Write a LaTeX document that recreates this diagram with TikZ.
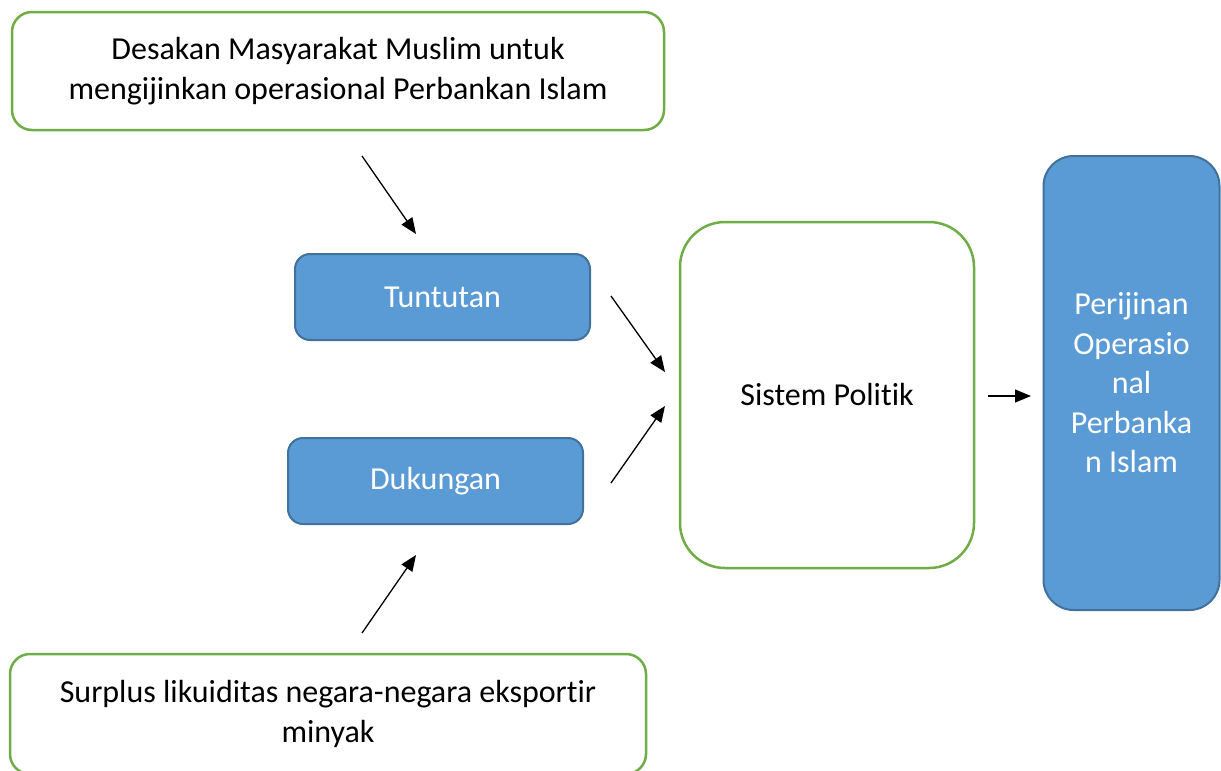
\documentclass[tikz,border=0pt]{standalone}
\usepackage{fontspec}
\setmainfont{Carlito}[Ligatures={NoCommon}]
\usetikzlibrary{arrows.meta}
\definecolor{grn}{HTML}{70AD47}
\definecolor{bfill}{HTML}{5B9BD5}
\definecolor{bdraw}{HTML}{41719C}
\tikzset{
  txt/.style={font=\fontsize{32}{39.5}\selectfont, align=center, inner sep=0pt},
  greenbox/.style={txt, draw=grn, line width=2.5pt, fill=white, rounded corners=20pt},
  bluebox/.style={txt, draw=bdraw, line width=2pt, fill=bfill, text=white, rounded corners=15pt},
  arr/.style={line width=1.3pt, -{Triangle[length=16pt,width=13pt]}}
}
\begin{document}
\begin{tikzpicture}[x=1pt,y=-1pt]
\useasboundingbox (0,0) rectangle (1221,771);
\clip (0,0) rectangle (1221,771);
\fill[white] (0,0) rectangle (1221,771);
\node[greenbox, minimum width=652pt, minimum height=118pt] (desakan) at (338,71)
  {Desakan Masyarakat Muslim untuk\\mengijinkan operasional Perbankan Islam};
\node[bluebox, minimum width=295pt, minimum height=86pt] (tuntutan) at (442.5,297) {\raisebox{-3pt}{Tuntutan}};
\node[bluebox, minimum width=295pt, minimum height=86pt] (dukungan) at (435.5,481) {\raisebox{-3pt}{Dukungan}};
\node[greenbox, rounded corners=45pt, minimum width=294pt, minimum height=346pt] (sistem) at (827,395) {\raisebox{-2pt}{Sistem Politik}};
\node[bluebox, rounded corners=30pt, minimum width=176pt, minimum height=454pt, line width=2pt] (perijinan) at (1131.5,383)
  {Perijinan\\Operasio\\nal\\Perbanka\\n Islam};
\node[greenbox, minimum width=636pt, minimum height=120pt] (surplus) at (328,714)
  {Surplus likuiditas negara-negara eksportir\\minyak};
\coordinate (a1s) at (362,156); \coordinate (a1e) at (416,234);
\coordinate (a2s) at (611,296); \coordinate (a2e) at (665,372);
\coordinate (a3s) at (611,483); \coordinate (a3e) at (665,406);
\coordinate (a4s) at (362,633); \coordinate (a4e) at (416,555);
\coordinate (a5s) at (988,396); \coordinate (a5e) at (1031,396);
\draw[arr] (a1s) -- (a1e);
\draw[arr] (a2s) -- (a2e);
\draw[arr] (a3s) -- (a3e);
\draw[arr] (a4s) -- (a4e);
\draw[arr] (a5s) -- (a5e);
\end{tikzpicture}
\end{document}
